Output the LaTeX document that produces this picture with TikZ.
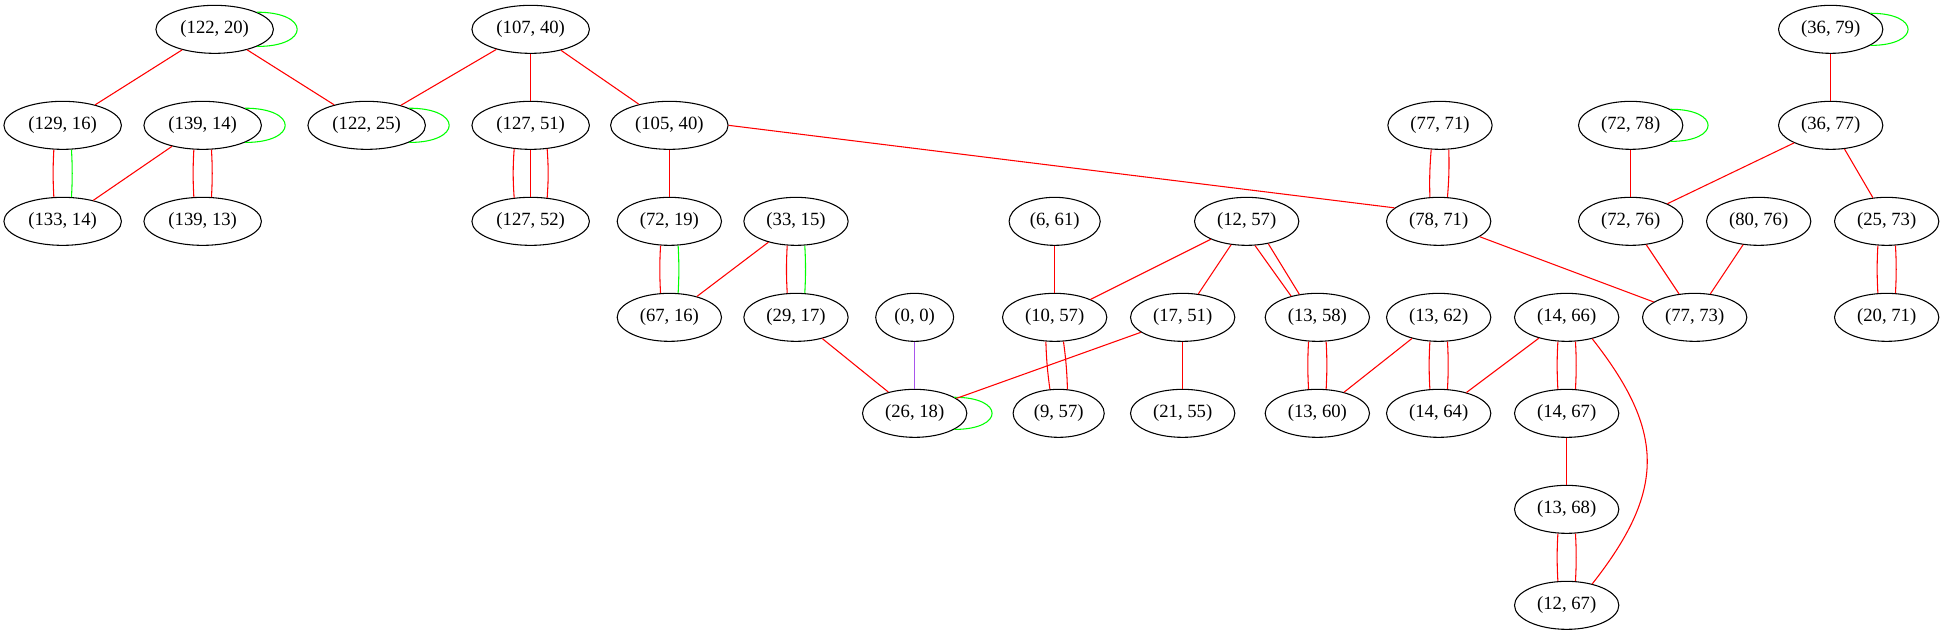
\documentclass[tikz,border=0pt]{standalone}
\usepackage{fontspec}
\setmainfont{Liberation Serif}
\usetikzlibrary{shapes.geometric}
\definecolor{gvpurple}{HTML}{A855EC}

\begin{document}
\begin{tikzpicture}[x=1pt,y=-1pt,
  gv/.style={ellipse,draw,line width=0.8pt,inner xsep=5.5pt,inner ysep=0pt,
    minimum height=36pt,font=\fontsize{14}{16}\selectfont},
  re/.style={red,line width=0.8pt},
  ge/.style={green,line width=0.8pt},
  gloop/.style={ge,out=0,in=0,looseness=4}]
  \useasboundingbox (0,0) rectangle (1458.75,476.25);

  % rank 1
  \node[gv] (n122-20) at (161,22) {(122, 20)};
  \node[gv] (n107-40) at (398,22) {(107, 40)};
  \node[gv] (n36-79) at (1373,22) {(36, 79)};
  % rank 2
  \node[gv] (n129-16) at (47,94) {(129, 16)};
  \node[gv] (n139-14) at (152,94) {(139, 14)};
  \node[gv] (n122-25) at (275,94) {(122, 25)};
  \node[gv] (n127-51) at (398,94) {(127, 51)};
  \node[gv] (n105-40) at (502,94) {(105, 40)};
  \node[gv] (n77-71) at (1080,94) {(77, 71)};
  \node[gv] (n72-78) at (1223,94) {(72, 78)};
  \node[gv] (n36-77) at (1373,94) {(36, 77)};
  % rank 3
  \node[gv] (n133-14) at (47,166) {(133, 14)};
  \node[gv] (n139-13) at (152,166) {(139, 13)};
  \node[gv] (n127-52) at (398,166) {(127, 52)};
  \node[gv] (n72-19) at (502,166) {(72, 19)};
  \node[gv] (n33-15) at (597,166) {(33, 15)};
  \node[gv] (n6-61) at (791,166) {(6, 61)};
  \node[gv] (n12-57) at (935,166) {(12, 57)};
  \node[gv] (n78-71) at (1079,166) {(78, 71)};
  \node[gv] (n72-76) at (1223,166) {(72, 76)};
  \node[gv] (n80-76) at (1319,166) {(80, 76)};
  \node[gv] (n25-73) at (1415,166) {(25, 73)};
  % rank 4
  \node[gv] (n67-16) at (502,238) {(67, 16)};
  \node[gv] (n29-17) at (597,238) {(29, 17)};
  \node[gv] (n0-0) at (686,238) {(0, 0)};
  \node[gv] (n10-57) at (791,238) {(10, 57)};
  \node[gv] (n17-51) at (887,238) {(17, 51)};
  \node[gv] (n13-58) at (988,238) {(13, 58)};
  \node[gv] (n13-62) at (1079,238) {(13, 62)};
  \node[gv] (n14-66) at (1175,238) {(14, 66)};
  \node[gv] (n77-73) at (1271,238) {(77, 73)};
  \node[gv] (n20-71) at (1415,238) {(20, 71)};
  % rank 5
  \node[gv] (n26-18) at (686,310) {(26, 18)};
  \node[gv] (n9-57) at (794,310) {(9, 57)};
  \node[gv] (n21-55) at (887,310) {(21, 55)};
  \node[gv] (n13-60) at (988,310) {(13, 60)};
  \node[gv] (n14-64) at (1079,310) {(14, 64)};
  \node[gv] (n14-67) at (1175,310) {(14, 67)};
  % rank 6 and 7
  \node[gv] (n13-68) at (1175,382) {(13, 68)};
  \node[gv] (n12-67) at (1175,454) {(12, 67)};

  % self loops
  \draw[gloop] (n122-20.22) to (n122-20.-22);
  \draw[gloop] (n139-14.22) to (n139-14.-22);
  \draw[gloop] (n122-25.22) to (n122-25.-22);
  \draw[gloop] (n36-79.22) to (n36-79.-22);
  \draw[gloop] (n72-78.22) to (n72-78.-22);
  \draw[gloop] (n26-18.22) to (n26-18.-22);

  % single edges
  \draw[re] (n122-20) -- (n129-16);
  \draw[re] (n122-20) -- (n122-25);
  \draw[re] (n107-40) -- (n122-25);
  \draw[re] (n107-40) -- (n127-51);
  \draw[re] (n107-40) -- (n105-40);
  \draw[re] (n36-79) -- (n36-77);
  \draw[re] (n139-14) -- (n133-14);
  \draw[re] (n105-40) -- (n72-19);
  \draw[re] (n105-40.east) -- (n78-71.163);
  \draw[re] (n72-78) -- (n72-76);
  \draw[re] (n36-77) -- (n72-76);
  \draw[re] (n36-77) -- (n25-73);
  \draw[re] (n33-15) -- (n67-16);
  \draw[re] (n6-61) -- (n10-57);
  \draw[re] (n12-57) -- (n10-57);
  \draw[re] (n12-57) -- (n17-51);
  \draw[re] (n78-71) -- (n77-73);
  \draw[re] (n72-76) -- (n77-73);
  \draw[re] (n80-76) -- (n77-73);
  \draw[re] (n29-17) -- (n26-18);
  \draw[re] (n17-51) -- (n26-18);
  \draw[re] (n17-51) -- (n21-55);
  \draw[re] (n13-62) -- (n13-60);
  \draw[re] (n14-66) -- (n14-64);
  \draw[re] (n14-67) -- (n13-68);
  \draw[re] (n14-66.-40) .. controls +(55pt,-70pt) and +(55pt,70pt) .. (n12-67.40);
  \draw[gvpurple,line width=0.8pt] (n0-0) -- (n26-18);

  % multi edges
  \draw[re] (n129-16.-110) to[bend right=3] (n133-14.110);
  \draw[ge] (n129-16.-70) to[bend left=3] (n133-14.70);
  \draw[re] (n139-14.-110) to[bend right=3] (n139-13.110);
  \draw[re] (n139-14.-70) to[bend left=3] (n139-13.70);
  \draw[re] (n127-51.-125) to[bend right=4] (n127-52.125);
  \draw[re] (n127-51) -- (n127-52);
  \draw[re] (n127-51.-55) to[bend left=4] (n127-52.55);
  \draw[re] (n77-71.-110) to[bend right=3] (n78-71.110);
  \draw[re] (n77-71.-70) to[bend left=3] (n78-71.70);
  \draw[re] (n72-19.-110) to[bend right=3] (n67-16.110);
  \draw[ge] (n72-19.-70) to[bend left=3] (n67-16.70);
  \draw[re] (n33-15.-110) to[bend right=3] (n29-17.110);
  \draw[ge] (n33-15.-70) to[bend left=3] (n29-17.70);
  \draw[re] (n25-73.-110) to[bend right=3] (n20-71.110);
  \draw[re] (n25-73.-70) to[bend left=3] (n20-71.70);
  \draw[re] (n12-57.-71) -- (n13-58.141);
  \draw[re] (n12-57.-46) -- (n13-58.128);
  \draw[re] (n10-57.-110) to[bend right=3] (n9-57.110);
  \draw[re] (n10-57.-70) to[bend left=3] (n9-57.70);
  \draw[re] (n13-58.-110) to[bend right=3] (n13-60.110);
  \draw[re] (n13-58.-70) to[bend left=3] (n13-60.70);
  \draw[re] (n13-62.-110) to[bend right=3] (n14-64.110);
  \draw[re] (n13-62.-70) to[bend left=3] (n14-64.70);
  \draw[re] (n14-66.-110) to[bend right=3] (n14-67.110);
  \draw[re] (n14-66.-70) to[bend left=3] (n14-67.70);
  \draw[re] (n13-68.-110) to[bend right=3] (n12-67.110);
  \draw[re] (n13-68.-70) to[bend left=3] (n12-67.70);
\end{tikzpicture}
\end{document}
